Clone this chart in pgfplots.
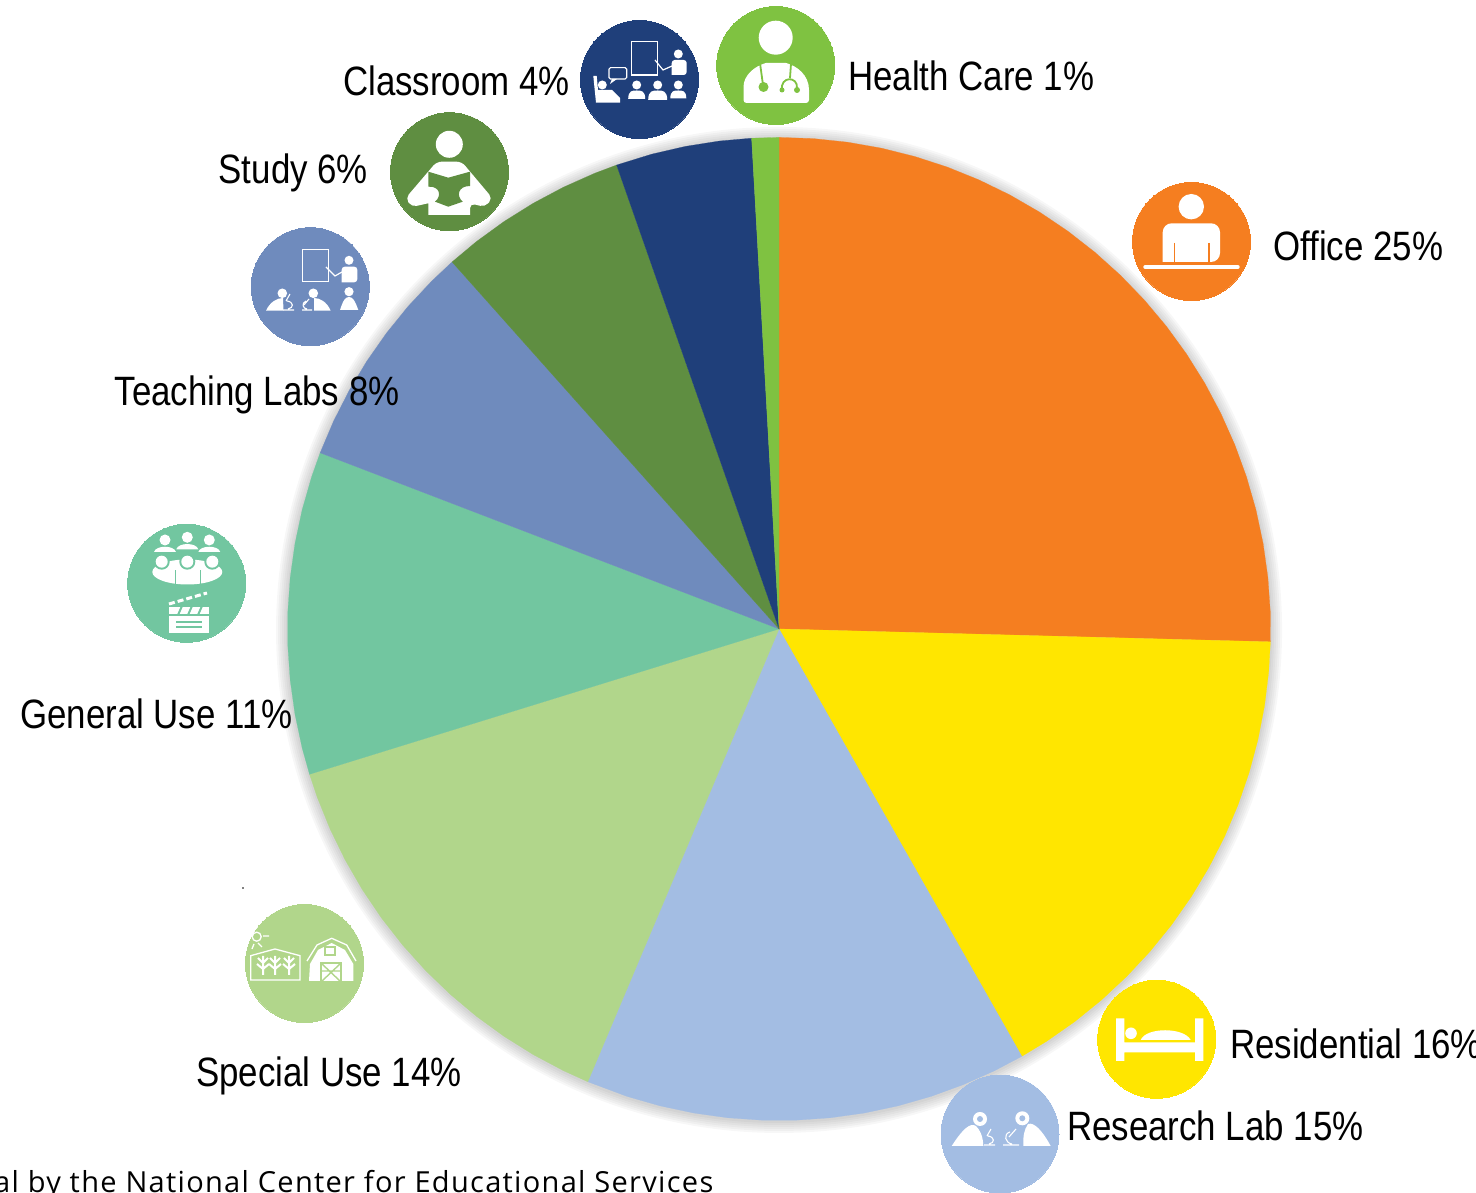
\documentclass[border=0pt]{standalone}
\usepackage{pgfplots}
\usepackage{fontspec}
\pgfplotsset{compat=1.18}
\setmainfont[FakeStretch=0.85]{Liberation Sans}
\newfontfamily\footfont[LetterSpace=4.5]{Open Sans}
\definecolor{cOffice}{HTML}{F57E20}
\definecolor{cResid}{HTML}{FFE600}
\definecolor{cResearch}{HTML}{A3BDE3}
\definecolor{cSpecial}{HTML}{B1D68B}
\definecolor{cGeneral}{HTML}{72C6A0}
\definecolor{cTeach}{HTML}{6F8BBD}
\definecolor{cStudy}{HTML}{5F8E41}
\definecolor{cClass}{HTML}{1F3F7A}
\definecolor{cHealth}{HTML}{7FC241}
\newcommand{\lab}{\fontsize{41}{41}\selectfont}
% small figure: head + dome shoulders, in pixel coordinates
\newcommand{\person}[4]{% x, y of head, head radius, half width of shoulders
  \fill[white] (#1,#2) circle (#3);
  \fill[white] (#1-#4,#2+#3+#4+1) .. controls (#1-#4,#2+#3+1) and (#1-#4*0.5,#2+#3+1) .. (#1,#2+#3+1)
     .. controls (#1+#4*0.5,#2+#3+1) and (#1+#4,#2+#3+1) .. (#1+#4,#2+#3+#4+1) -- cycle;
}
\newcommand{\micro}[2]{% microscope at x, y
  \draw[white,line width=1.1pt] (#1-5,#2+10) -- (#1+6,#2+10) (#1+2,#2-6) -- (#1-2,#2+1)
     (#1-1,#2+1) .. controls (#1+6,#2+2) and (#1+6,#2+8) .. (#1,#2+9);
}
\pgfplotsset{
  pixelaxis/.style={
    at={(0,0)}, anchor=south west,
    scale only axis, width=1476pt, height=1193pt,
    hide axis, clip=false,
  },
}
\begin{document}
\begin{tikzpicture}
\path[use as bounding box] (0,0) rectangle (1476pt,1193pt);
% soft shadow under the pie, own axis because marks go on top of an axis' plots
\begin{axis}[pixelaxis, xmin=-779, xmax=697, ymin=-564, ymax=629]
\pgfplotsinvokeforeach{493,495,497,499,501,503}{
  \addplot[only marks, mark=*, mark size=#1pt, mark options={draw opacity=0, fill=black, fill opacity=0.03}] coordinates {(0,-1)};
}
\end{axis}
% pie, centred on the origin, radius in pixels
\begin{axis}[pixelaxis, xmin=-779, xmax=697, ymin=-564, ymax=629]
% Office
\addplot[data cs=polar, fill=cOffice, draw=cOffice, line width=0.2pt] coordinates {(0,0) (90,491.5) (86,491.5) (82,491.5) (78,491.5) (74,491.5) (70,491.5) (66,491.5) (62,491.5) (58,491.5) (54,491.5) (50,491.5) (46,491.5) (42,491.5) (38,491.5) (34,491.5) (30,491.5) (26,491.5) (22,491.5) (18,491.5) (14,491.5) (10,491.5) (6,491.5) (2,491.5) (-1.5,491.5)} -- cycle;
% Residential
\addplot[data cs=polar, fill=cResid, draw=cResid, line width=0.2pt] coordinates {(0,0) (-1.5,491.5) (-5,491.5) (-9,491.5) (-13,491.5) (-17,491.5) (-21,491.5) (-25,491.5) (-29,491.5) (-33,491.5) (-37,491.5) (-41,491.5) (-45,491.5) (-49,491.5) (-53,491.5) (-57,491.5) (-60.4,491.5)} -- cycle;
% Research Lab
\addplot[data cs=polar, fill=cResearch, draw=cResearch, line width=0.2pt] coordinates {(0,0) (-60.4,491.5) (-64,491.5) (-68,491.5) (-72,491.5) (-76,491.5) (-80,491.5) (-84,491.5) (-88,491.5) (-92,491.5) (-96,491.5) (-100,491.5) (-104,491.5) (-108,491.5) (-112.9,491.5)} -- cycle;
% Special Use
\addplot[data cs=polar, fill=cSpecial, draw=cSpecial, line width=0.2pt] coordinates {(0,0) (-112.9,491.5) (-116,491.5) (-120,491.5) (-124,491.5) (-128,491.5) (-132,491.5) (-136,491.5) (-140,491.5) (-144,491.5) (-148,491.5) (-152,491.5) (-156,491.5) (-160,491.5) (-162.8,491.5)} -- cycle;
% General Use
\addplot[data cs=polar, fill=cGeneral, draw=cGeneral, line width=0.2pt] coordinates {(0,0) (-162.8,491.5) (-166,491.5) (-170,491.5) (-174,491.5) (-178,491.5) (-182,491.5) (-186,491.5) (-190,491.5) (-194,491.5) (-198,491.5) (-201,491.5)} -- cycle;
% Teaching Labs
\addplot[data cs=polar, fill=cTeach, draw=cTeach, line width=0.2pt] coordinates {(0,0) (159,491.5) (155,491.5) (151,491.5) (147,491.5) (143,491.5) (139,491.5) (135,491.5) (131.7,491.5)} -- cycle;
% Study
\addplot[data cs=polar, fill=cStudy, draw=cStudy, line width=0.2pt] coordinates {(0,0) (131.7,491.5) (128,491.5) (124,491.5) (120,491.5) (116,491.5) (112,491.5) (109.3,491.5)} -- cycle;
% Classroom
\addplot[data cs=polar, fill=cClass, draw=cClass, line width=0.2pt] coordinates {(0,0) (109.3,491.5) (105,491.5) (101,491.5) (97,491.5) (93.2,491.5)} -- cycle;
% Health Care
\addplot[data cs=polar, fill=cHealth, draw=cHealth, line width=0.2pt] coordinates {(0,0) (93.2,491.5) (90,491.5)} -- cycle;
\end{axis}
% icon discs and labels, in pixel coordinates of the picture
\begin{axis}[pixelaxis,
  xmin=0, xmax=1476, ymin=0, ymax=1193, y dir=reverse,
  disc/.style={only marks, mark=*, mark size=59pt, mark options={draw=#1, fill=#1, line width=0pt}},
  nodes={inner sep=0pt, anchor=base west},
]
\addplot[disc=cOffice] coordinates {(1191.5,241.5)};
\addplot[disc=cResid] coordinates {(1156.7,1039.3)};
\addplot[disc=cResearch] coordinates {(1000,1134)};
\addplot[disc=cSpecial] coordinates {(304.5,963.5)};
\addplot[disc=cGeneral] coordinates {(186.7,583.3)};
\addplot[disc=cTeach] coordinates {(310.3,286.7)};
\addplot[disc=cStudy] coordinates {(449.5,171.7)};
\addplot[disc=cClass] coordinates {(639.5,79.5)};
\addplot[disc=cHealth] coordinates {(775.7,65.5)};
\node at (axis cs:1273,260) {\lab Office 25\%};
\node at (axis cs:1230,1058) {\lab Residential 16\%};
\node at (axis cs:1067,1140) {\lab Research Lab 15\%};
\node at (axis cs:196,1086) {\lab Special Use 14\%};
\node at (axis cs:20,728) {\lab General Use 11\%};
\node at (axis cs:114.5,405) {\lab Teaching Labs 8\%};
\node at (axis cs:218.5,183) {\lab Study 6\%};
\node at (axis cs:343,96) {\lab Classroom 4\%};
\node at (axis cs:848,91) {\lab Health Care 1\%};
\node at (axis cs:-6,1192) {\footfont\fontsize{29}{29}\selectfont al by the National Center for Educational Services};
\end{axis}
% white pictograms, coordinates are picture pixels with y downwards
\begin{scope}[x=1pt, y=-1pt, shift={(0,1193pt)}]
% Office
\fill[white] (1191.3,206.7) circle (12.7);
\fill[white,rounded corners=9pt] (1162.7,262) -- (1162.7,223.3) -- (1220,223.3) -- (1220,262) [sharp corners] -- cycle;
\draw[cOffice,line width=1.6pt] (1174.3,243) -- (1174.3,262) (1209,243) -- (1209,262);
\draw[white,line width=3.4pt,line cap=round] (1145,267) -- (1238,267);
% Residential
\fill[white] (1116,1018.3) rectangle (1124.3,1061) (1195,1018.3) rectangle (1203.3,1061) (1124,1042.3) rectangle (1195,1052.3);
\fill[white] (1131,1033.3) circle (5.8);
\fill[white] (1140.7,1040) .. controls (1146,1027) and (1184,1027) .. (1190.7,1040) -- cycle;
% Research Lab
\fill[white] (980,1119) circle (7) (1022.3,1118.3) circle (7);
\fill[cResearch] (980,1119) circle (3) (1022.3,1118.3) circle (3);
\fill[white] (951.7,1146) .. controls (962,1130) and (970,1122) .. (976,1126) .. controls (980,1130) and (983,1136) .. (983.3,1146) -- cycle;
\fill[white] (1050.7,1146) .. controls (1042,1130) and (1034,1122) .. (1028,1124) .. controls (1024,1130) and (1023,1136) .. (1023.3,1146) -- cycle;
\micro{989}{1135}
\draw[white,line width=1.1pt] (1003,1145) -- (1019,1145) (1016,1129) -- (1009,1137) (1010,1132) .. controls (1003,1134) and (1005,1143) .. (1012,1144);
% Special Use: greenhouse, sun, barn
\draw[white,line width=1.3pt] (250.7,980) -- (250.7,955.7) -- (275,949) -- (300,955.7) -- (300,980) -- cycle;
\draw[white,line width=1.3pt] (256.7,936.7) circle (4.5) (263,936) -- (269,936) (258,943) -- (262,947) (254,944) -- (252,949);
\foreach \px in {263,275,289}{
  \draw[white,line width=2pt] (\px,956) -- (\px,975) (\px-6,964) -- (\px,969) (\px+6,964) -- (\px,969) (\px-5,958) -- (\px,963) (\px+5,958) -- (\px,963);
}
\fill[white] (309,981) -- (310,964) -- (318,950) -- (331.7,943) -- (345,950) -- (353.3,964) -- (353.3,981) -- cycle;
\draw[white,line width=1.3pt] (307,961) -- (317,945) -- (331.7,938.3) -- (346.7,945) -- (356,961);
\fill[cSpecial] (324.3,946) rectangle (336,956);
\fill[white] (326,948) rectangle (334,954);
\fill[cSpecial] (320,961.7) rectangle (342.3,981);
\fill[white] (322,964) rectangle (340,981);
\draw[cSpecial,line width=1.4pt] (322,964) -- (340,981) (340,964) -- (322,981) (322,971) -- (340,971);
% General Use
\foreach \hx/\hy in {165/540,187.3/537.3,209.3/540}{
  \fill[white] (\hx,\hy) circle (5.5);
  \fill[white] (\hx-11,\hy+12) .. controls (\hx-9,\hy+5) and (\hx+9,\hy+5) .. (\hx+11,\hy+12) -- cycle;
}
\fill[white] (187.3,572) ellipse (35 and 12.5);
\foreach \hx in {161.7,187.3,212.3}{
  \fill[cGeneral] (\hx,561.7) circle (8);
  \fill[white] (\hx,561.7) circle (6);
}
\draw[cGeneral,line width=1pt] (175,584) -- (175,570) (200,584) -- (200,570);
\fill[white] (169.3,616) rectangle (209.3,632.7);
\draw[cGeneral,line width=1.2pt] (176,622) -- (202,622) (176,627) -- (202,627);
\fill[white] (169.3,607) rectangle (209.3,614);
\draw[cGeneral,line width=2pt] (178,615) -- (182,606) (188,615) -- (192,606) (198,615) -- (202,606);
\draw[white,line width=3pt,dash pattern=on 6pt off 3pt] (169,604) -- (207,593);
% Teaching Labs
\draw[white,line width=1.1pt] (302.7,249.3) rectangle (328.3,281.7);
\fill[white] (349,260.3) circle (4.5);
\fill[white,rounded corners=3pt] (341.7,282.3) -- (341.7,266.7) -- (357.3,266.7) -- (357.3,282.3) [sharp corners] -- cycle;
\draw[white,line width=1.2pt] (326,267) -- (335,276) -- (342,272);
\fill[white] (282.3,293.3) circle (4.8) (313.3,293.3) circle (4.8) (349,291.7) circle (4.6);
\fill[white] (266,310.7) .. controls (270,302) and (277,298) .. (283,298) -- (283.5,310.7) -- cycle;
\fill[white] (330.7,310.7) .. controls (327,302) and (320,298) .. (314,298) -- (314,310.7) -- cycle;
\fill[white] (340,310) .. controls (343,301) and (345,297) .. (349,297) .. controls (353,297) and (355,301) .. (358.3,310) -- cycle;
\micro{288}{300}
\draw[white,line width=1.1pt] (302,310) -- (312,310) (309,299) -- (304,305) (306,301) .. controls (301,303) and (303,309) .. (307,309);
% Study
\fill[white] (449.3,144.3) circle (13.5);
\fill[white,rounded corners=5pt] (436.7,161.7) -- (461.7,161.7) -- (492.5,198.3) -- (485,207) -- (470,203.3) [sharp corners] -- (470,215) -- (428.3,215) -- (428.3,203.3) [rounded corners=5pt] -- (411.7,207) -- (405.5,198.3) -- cycle;
\fill[cStudy] (428.3,171.7) -- (448.3,177.7) -- (470,171.7) -- (470,186) .. controls (458,186) and (456,196) .. (462.7,201.7) -- (448.3,206.7) -- (435,201.7) .. controls (442,196) and (440,186) .. (428.3,186.7) -- cycle;
% Classroom
\draw[white,line width=1.2pt] (631.7,41.7) rectangle (657.3,75);
\fill[white] (678.3,54) circle (4.5);
\fill[white,rounded corners=3pt] (671.7,75) -- (671.7,60) -- (686.7,60) -- (686.7,75) [sharp corners] -- cycle;
\draw[white,line width=1.2pt] (655,60) -- (663,70) -- (672,66);
\person{636.7}{85}{4.5}{8.5}
\person{657.7}{85}{4.5}{9.5}
\person{678.3}{85}{4.5}{8}
\fill[white] (602.3,85) circle (4.5);
\fill[white] (593.3,76) -- (596.7,76) -- (598,90) -- (612,90) -- (620,98) -- (620,102.7) -- (596,102.7) -- cycle;
\draw[white,line width=1.1pt,rounded corners=1.5pt] (609,67.7) rectangle (626.7,79);
\fill[white] (612,79) -- (610,84) -- (617,79) -- cycle;
% Health Care
\fill[white] (775.7,37.7) circle (17);
\fill[white,rounded corners=3pt] (743.5,103) -- (743.5,90) [sharp corners] .. controls (743.5,75) and (755,66) .. (766,63) -- (786,63) .. controls (797,66) and (809,75) .. (809,90) [rounded corners=3pt] -- (809,103) -- cycle;
\draw[cHealth,line width=1.8pt] (760,63) -- (763,85) (791,64) -- (790,78) (782,90) .. controls (780,76) and (798,76) .. (797,88);
\fill[cHealth] (763.5,87) circle (5) (782,90) circle (2.5) (797,90) circle (3);
% stray speck left on the artwork
\fill[black] (243,888) circle (0.9);
\end{scope}
\end{tikzpicture}
\end{document}
